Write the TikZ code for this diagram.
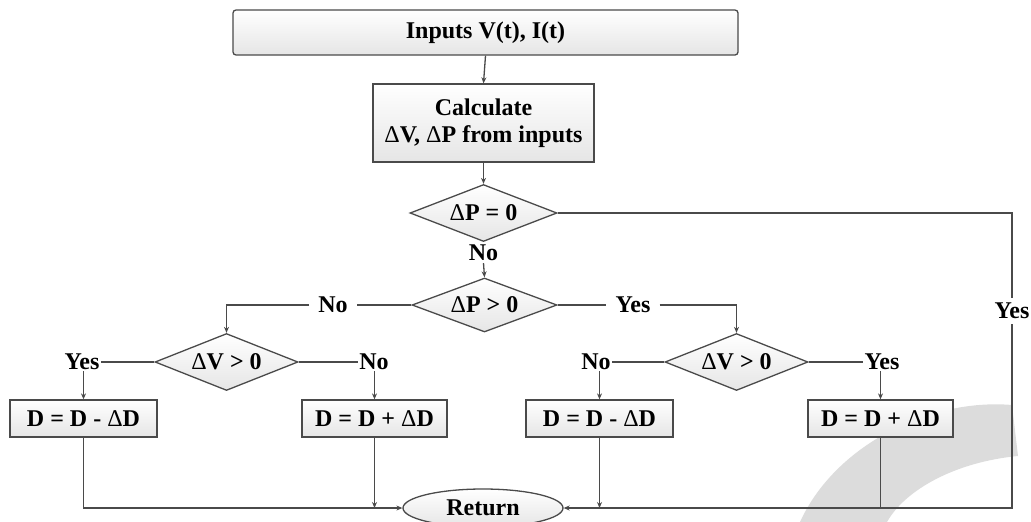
\documentclass[tikz,border=0pt]{standalone}
\usepackage{fontspec}
\setmainfont{Liberation Serif}
\usetikzlibrary{shapes.geometric,arrows.meta,calc}
\definecolor{ln}{HTML}{4A4A4A}
\definecolor{wm}{HTML}{DCDCDC}
\newcommand{\dl}{\textmd{Δ}}
\tikzset{
  every node/.style={font=\bfseries\fontsize{24}{27}\selectfont, text=black},
  conn/.style={draw=ln, line width=1.3pt},
  arr/.style={conn, -{Stealth[length=6pt,width=5pt]}},
  procbox/.style={draw=ln, line width=1.3pt, top color=white, bottom color=black!10, inner sep=0pt, align=center},
  decbox/.style={diamond, draw=ln, line width=1.3pt, top color=white, bottom color=black!10, inner sep=0pt, aspect=2.5},
  lbl/.style={inner sep=2pt, fill=white},
  wlbl/.style={inner xsep=9pt, inner ysep=2pt, fill=white}
}
\begin{document}
\begin{tikzpicture}[x=1pt,y=-1pt]
\useasboundingbox (0,0) rectangle (1031,522);
% watermark
\fill[wm] (800,522) .. controls (835,445) and (930,398) .. (1012,405) -- (1018,456) .. controls (955,462) and (905,490) .. (887,522) -- cycle;

\node[procbox, rounded corners=3pt, minimum width=505pt, minimum height=45pt] (in) at (485.5,32.5) {Inputs V(t), I(t)};
\node[procbox, minimum width=221pt, minimum height=78pt] (calc) at (483.5,123) {Calculate\\\dl V, \dl P from inputs};
\node[decbox, minimum width=147pt, minimum height=57pt] (d0) at (483.5,213) {\dl P = 0};
\node[lbl] (no1) at (483.5,253) {No};
\node[decbox, minimum width=145pt, minimum height=54pt] (d1) at (484.5,305) {\dl P {\textgreater} 0};
\node[wlbl] (noL) at (333,305) {No};
\node[wlbl] (yesC) at (633,305) {Yes};
\node[decbox, minimum width=143pt, minimum height=57pt] (dvL) at (226.5,362) {\dl V {\textgreater} 0};
\node[decbox, minimum width=143pt, minimum height=57pt] (dvR) at (736.5,362) {\dl V {\textgreater} 0};
\node[lbl, inner sep=1pt] (yesLL) at (82,362) {Yes};
\node[lbl, inner sep=1pt] (noLR) at (374,362) {No};
\node[lbl, inner sep=1pt] (noRL) at (596,362) {No};
\node[lbl, inner sep=1pt] (yesRR) at (882,362) {Yes};
\node[lbl, inner ysep=5pt] (yesR) at (1012,311) {Yes};
\node[procbox, minimum width=147pt, minimum height=37pt] (bLL) at (83.5,418.5) {D = D - \dl D};
\node[procbox, minimum width=145pt, minimum height=37pt] (bLR) at (374.5,418.5) {D = D + \dl D};
\node[procbox, minimum width=147pt, minimum height=37pt] (bRL) at (599.5,418.5) {D = D - \dl D};
\node[procbox, minimum width=145pt, minimum height=37pt] (bRR) at (880.5,418.5) {D = D + \dl D};
\node[ellipse, draw=ln, line width=1.3pt, top color=white, bottom color=black!10, minimum width=160pt, minimum height=38pt, inner sep=0pt] (ret) at (483,508) {Return};

\coordinate (c0) at (1012,213);
\coordinate (c1) at (1012,508);
\coordinate (cL) at (226.5,305);
\coordinate (cR) at (736.5,305);
\coordinate (bl) at (83.5,508);
\coordinate (j1) at (374.5,508);
\coordinate (j2) at (599.5,508);
\coordinate (j3) at (880.5,508);

\draw[arr] (in.south) -- (calc.north);
\draw[arr] (calc.south) -- (d0.north);
\draw[arr] (no1.south) -- (d1.north);
\draw[conn] (d0.east) -- (c0) -- (yesR.north);
\draw[arr] (yesR.south) -- (c1) -- (ret.east);
\draw[conn] (d1.west) -- (noL.east);
\draw[arr] (noL.west) -- (cL) -- (dvL.north);
\draw[conn] (d1.east) -- (yesC.west);
\draw[arr] (yesC.east) -- (cR) -- (dvR.north);
\draw[conn] (dvL.west) -- (yesLL.east);
\draw[conn] (dvL.east) -- (noLR.west);
\draw[conn] (dvR.west) -- (noRL.east);
\draw[conn] (dvR.east) -- (yesRR.west);
\draw[arr] (yesLL.south -| bLL.north) -- (bLL.north);
\draw[arr] (noLR.south -| bLR.north) -- (bLR.north);
\draw[arr] (noRL.south -| bRL.north) -- (bRL.north);
\draw[arr] (yesRR.south -| bRR.north) -- (bRR.north);
\draw[arr] (bLL.south) -- (bl) -- (ret.west);
\draw[arr] (bLR.south) -- (j1);
\draw[arr] (bRL.south) -- (j2);
\draw[conn] (bRR.south) -- (j3);
\end{tikzpicture}
\end{document}
